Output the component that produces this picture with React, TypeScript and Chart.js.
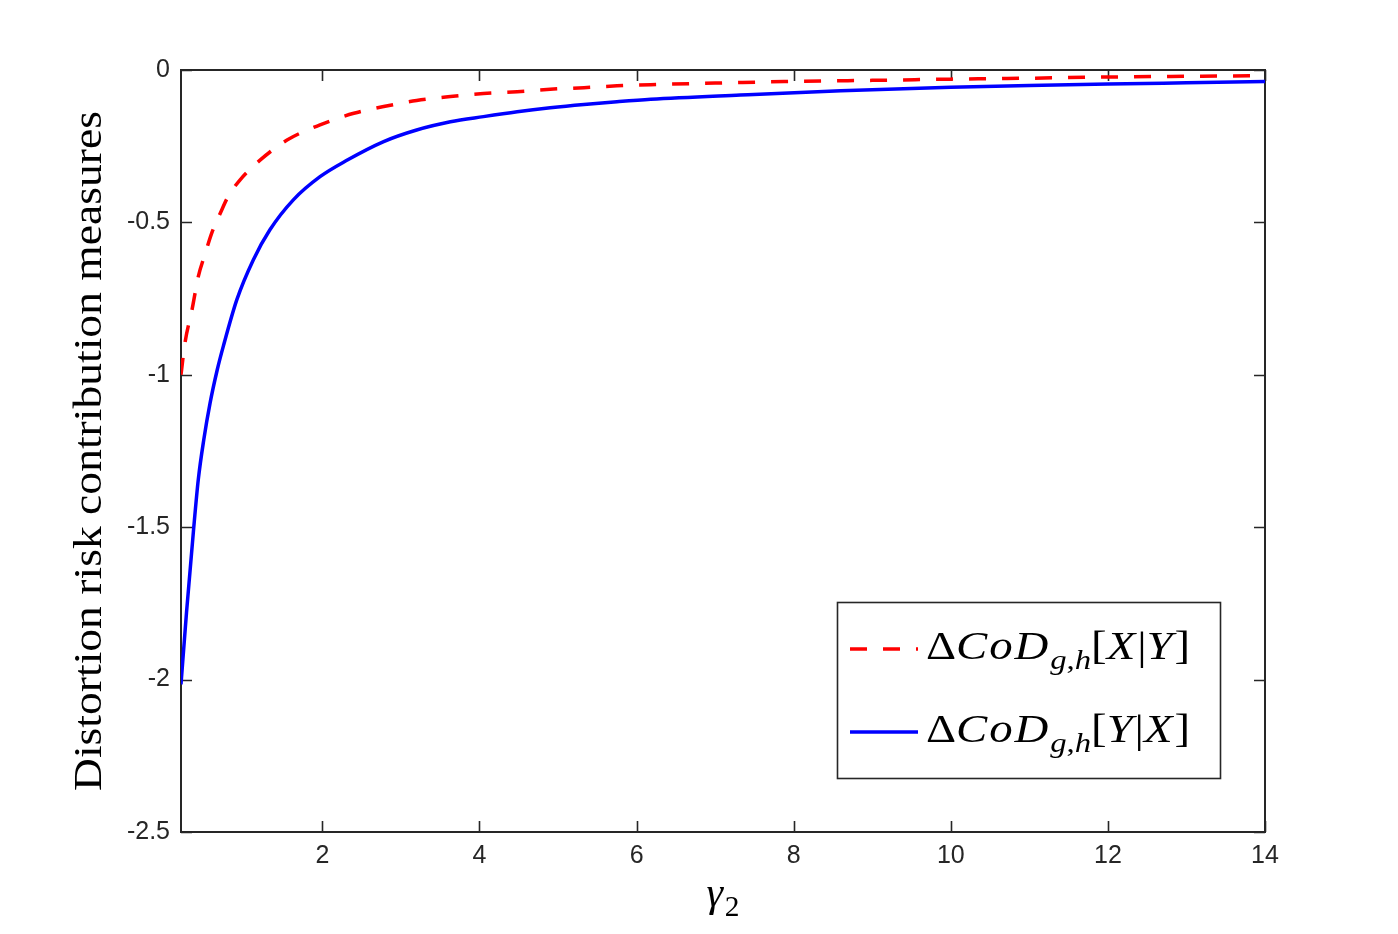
import React, { useEffect, useRef } from 'react';
import { Chart, registerables } from 'chart.js';

Chart.register(...registerables);

// ---- data ----
const gammaRed = [0.2, 0.25, 0.34, 0.42, 0.51, 0.59, 0.7, 0.8, 0.95, 1.21, 1.55, 1.97, 2.4, 2.78, 3.2, 3.63, 4.05, 4.48, 4.9, 5.33, 5.75, 6.18, 7.0, 7.88, 9.0, 10.0, 11.0, 11.7, 12.8, 13.8, 14];
const codXgivenY = [-1.0, -0.896, -0.787, -0.678, -0.601, -0.536, -0.47, -0.415, -0.361, -0.295, -0.23, -0.18, -0.142, -0.12, -0.1, -0.087, -0.077, -0.071, -0.063, -0.058, -0.052, -0.048, -0.043, -0.038, -0.034, -0.03, -0.027, -0.024, -0.021, -0.019, -0.018];

const gammaBlue = [0.2, 0.27, 0.36, 0.42, 0.49, 0.57, 0.66, 0.74, 0.91, 1.12, 1.33, 1.63, 1.97, 2.3, 2.78, 3.2, 3.63, 4.05, 4.48, 4.9, 5.33, 5.75, 6.18, 7.32, 8.6, 10.0, 11.0, 12.0, 13.0, 14];
const codYgivenX = [-2.016, -1.78, -1.508, -1.344, -1.213, -1.093, -0.985, -0.905, -0.754, -0.623, -0.525, -0.426, -0.35, -0.298, -0.235, -0.197, -0.17, -0.153, -0.137, -0.124, -0.113, -0.104, -0.096, -0.082, -0.068, -0.057, -0.051, -0.046, -0.042, -0.038];

const seriesLabels = ['ΔCoD_{g,h}[X|Y]', 'ΔCoD_{g,h}[Y|X]'];
const xTickValues = [2, 4, 6, 8, 10, 12, 14];
const yTickValues = [0, -0.5, -1, -1.5, -2, -2.5];
const xTitle = 'γ_{2}';
const yTitle = 'Distortion risk contribution measures';

const AXIS_COLOR = '#262626';
const SERIF = '"Liberation Serif", "DejaVu Serif", serif';
const SANS = '"Liberation Sans", Arial, sans-serif';

type Run = { t: string; italic: boolean; sub: boolean };

function parseMath(s: string): Run[] {
  const runs: Run[] = [];
  const push = (ch: string, sub: boolean) =>
    runs.push({ t: ch, italic: /[A-Za-z\u03b1-\u03c9]/.test(ch), sub });
  let i = 0;
  while (i < s.length) {
    if (s[i] === '_' && s[i + 1] === '{') {
      const j = s.indexOf('}', i);
      for (const ch of s.slice(i + 2, j)) push(ch, true);
      i = j + 1;
    } else {
      push(s[i], false);
      i++;
    }
  }
  return runs;
}

function drawMath(
  ctx: CanvasRenderingContext2D,
  s: string,
  x: number,
  baseline: number,
  size: number,
  align: 'left' | 'center',
  targetWidth?: number
) {
  const runs = parseMath(s);
  const subSize = size * 0.7;
  const fontFor = (r: Run) => `${r.italic ? 'italic ' : ''}${r.sub ? subSize : size}px ${SERIF}`;
  const widths = runs.map((r) => {
    ctx.font = fontFor(r);
    return ctx.measureText(r.t).width + (r.italic && !r.sub ? size * 0.04 : 0);
  });
  const total = widths.reduce((a, b) => a + b, 0);
  const sx = targetWidth ? targetWidth / total : 1;
  const drawnW = total * sx;
  const startX = align === 'center' ? x - drawnW / 2 : x;
  ctx.save();
  ctx.translate(startX, baseline);
  ctx.scale(sx, 1);
  ctx.fillStyle = '#000';
  ctx.textAlign = 'left';
  ctx.textBaseline = 'alphabetic';
  let cx = 0;
  runs.forEach((r, i) => {
    ctx.font = fontFor(r);
    ctx.fillText(r.t, cx, r.sub ? size * 0.24 : 0);
    cx += widths[i];
  });
  ctx.restore();
}

const frameAndTitles = {
  id: 'frameAndTitles',
  beforeDatasetsDraw(chart: any) {
    const { ctx, chartArea: a, scales } = chart;
    ctx.save();
    ctx.strokeStyle = AXIS_COLOR;
    ctx.lineWidth = 2;
    ctx.strokeRect(a.left, a.top, a.right - a.left, a.bottom - a.top);
    ctx.lineWidth = 1.6;
    const tl = 11;
    ctx.beginPath();
    scales.x.ticks.forEach((t: any) => {
      const px = Math.round(scales.x.getPixelForValue(t.value)) + 0.5;
      ctx.moveTo(px, a.bottom);
      ctx.lineTo(px, a.bottom - tl);
      ctx.moveTo(px, a.top);
      ctx.lineTo(px, a.top + tl);
    });
    scales.y.ticks.forEach((t: any) => {
      const py = Math.round(scales.y.getPixelForValue(t.value)) + 0.5;
      ctx.moveTo(a.left, py);
      ctx.lineTo(a.left + tl, py);
      ctx.moveTo(a.right, py);
      ctx.lineTo(a.right - tl, py);
    });
    ctx.stroke();
    ctx.restore();

    // y title (rotated)
    ctx.save();
    ctx.translate(101, (a.top + a.bottom) / 2);
    ctx.rotate(-Math.PI / 2);
    ctx.font = `40px ${SERIF}`;
    const w = ctx.measureText(yTitle).width;
    ctx.scale(680 / w, 1);
    ctx.fillStyle = '#000';
    ctx.textAlign = 'center';
    ctx.textBaseline = 'alphabetic';
    ctx.fillText(yTitle, 0, 0);
    ctx.restore();

    // x title
    drawMath(ctx, xTitle, (a.left + a.right) / 2, 906, 42, 'center');
  },
  afterDraw(chart: any) {
    const { ctx } = chart;
    const bx = 837, by = 602, bw = 383, bh = 176;
    ctx.save();
    ctx.fillStyle = '#fff';
    ctx.fillRect(bx, by, bw, bh);
    ctx.strokeStyle = AXIS_COLOR;
    ctx.lineWidth = 1.6;
    ctx.strokeRect(bx + 0.5, by + 0.5, bw, bh);
    const rows = [649, 732];
    chart.data.datasets.forEach((ds: any, i: number) => {
      const y = rows[i];
      ctx.save();
      ctx.strokeStyle = ds.borderColor;
      ctx.lineWidth = ds.borderWidth;
      ctx.setLineDash(ds.borderDash || []);
      ctx.beginPath();
      ctx.moveTo(850, y);
      ctx.lineTo(918, y);
      ctx.stroke();
      ctx.restore();
      drawMath(ctx, ds.label, 926, y + 10, 40, 'left', 264);
    });
    ctx.restore();
  },
};

export default function App() {
  const ref = useRef<HTMLCanvasElement | null>(null);
  useEffect(() => {
    if (!ref.current) return;
    const chart = new Chart(ref.current, {
      type: 'line',
      data: {
        datasets: [
          {
            label: seriesLabels[0],
            data: gammaRed.map((x, i) => ({ x, y: codXgivenY[i] })),
            borderColor: '#ff0000',
            borderWidth: 3.5,
            borderDash: [17, 16],
            pointRadius: 0,
            fill: false,
            cubicInterpolationMode: 'monotone',
          },
          {
            label: seriesLabels[1],
            data: gammaBlue.map((x, i) => ({ x, y: codYgivenX[i] })),
            borderColor: '#0000ff',
            borderWidth: 3.5,
            pointRadius: 0,
            fill: false,
            cubicInterpolationMode: 'monotone',
          },
        ],
      },
      options: {
        responsive: false,
        animation: false,
        devicePixelRatio: 1,
        layout: { padding: { top: 70, right: 133, left: 0, bottom: 0 } },
        plugins: { legend: { display: false }, tooltip: { enabled: false } },
        scales: {
          x: {
            type: 'linear',
            min: 0.2,
            max: 14,
            grid: { display: false, drawTicks: false },
            border: { display: false },
            afterBuildTicks: (s: any) => {
              s.ticks = xTickValues.map((v) => ({ value: v }));
            },
            afterFit: (s: any) => {
              s.height = 102;
            },
            ticks: {
              padding: 9,
              color: AXIS_COLOR,
              font: { family: SANS, size: 25 },
              maxRotation: 0,
              callback: (v: any) => String(v),
            },
          },
          y: {
            type: 'linear',
            min: -2.5,
            max: 0,
            grid: { display: false, drawTicks: false },
            border: { display: false },
            afterBuildTicks: (s: any) => {
              s.ticks = yTickValues.map((v) => ({ value: v }));
            },
            afterFit: (s: any) => {
              s.width = 181;
            },
            ticks: {
              padding: 11,
              color: AXIS_COLOR,
              font: { family: SANS, size: 25 },
              callback: (v: any) => String(v),
            },
          },
        },
      },
      plugins: [frameAndTitles],
    } as any);
    return () => chart.destroy();
  }, []);
  return (
    <div style={{ position: 'absolute', left: 0, top: 0, width: 1398, height: 934, background: '#fff' }}>
      <canvas ref={ref} width={1398} height={934} style={{ display: 'block' }} />
    </div>
  );
}
